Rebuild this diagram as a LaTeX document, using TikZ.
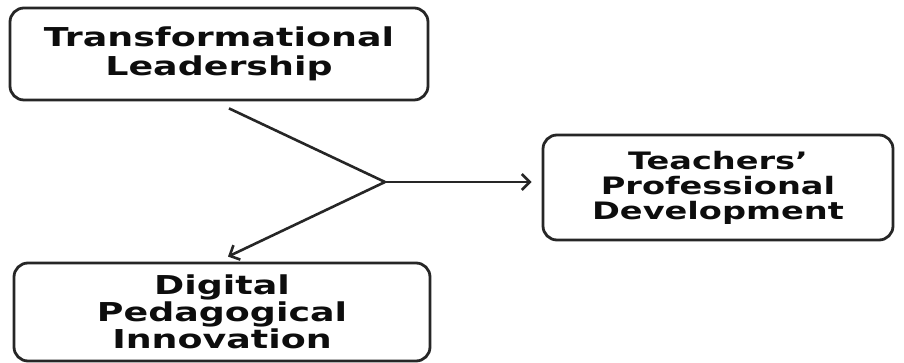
\documentclass[tikz,border=0pt]{standalone}
\usepackage{fontspec}
\newfontfamily\boxfont{DejaVu Sans}[FakeStretch=1.4]
\usetikzlibrary{calc}
\usetikzlibrary{arrows.meta}

\tikzset{
  concept/.style={draw=black!85, line width=2.8pt, rounded corners=14pt,
    align=center, inner sep=0pt, text=black!95,
    font=\boxfont\bfseries\fontsize{26}{29}\selectfont},
  link/.style={draw=black!85, line width=2.6pt},
}

\begin{document}
\begin{tikzpicture}[x=1pt,y=1pt,>={Straight Barb[length=8pt,width=16pt]}]
                        \useasboundingbox (0,0) rectangle (904,363);
                        \node[concept, minimum width=418, minimum height=92] (tl) at (219,309)
                            {Transformational\\Leadership};
                        \node[concept, minimum width=350, minimum height=105,
                            font=\boxfont\bfseries\fontsize{24}{25}\selectfont] (tpd) at (718,175.5)
                            {Teachers’\\Professional\\Development};
                        \node[concept, minimum width=416, minimum height=98,
                            font=\boxfont\bfseries\fontsize{26}{27}\selectfont] (dpi) at (222,51)
                            {Digital\\Pedagogical\\Innovation};
                        \coordinate (fork) at (385,181);
                        \draw[link] ([shift={(10,-7)}]tl.south) -- (fork);
                        \draw[link,->] (fork) -- ([shift={(6,5)}]dpi.north);
                        \draw[link,->] (fork) -- ($(fork -| tpd.west)+(-10,0)$);
                    \end{tikzpicture}
\end{document}
